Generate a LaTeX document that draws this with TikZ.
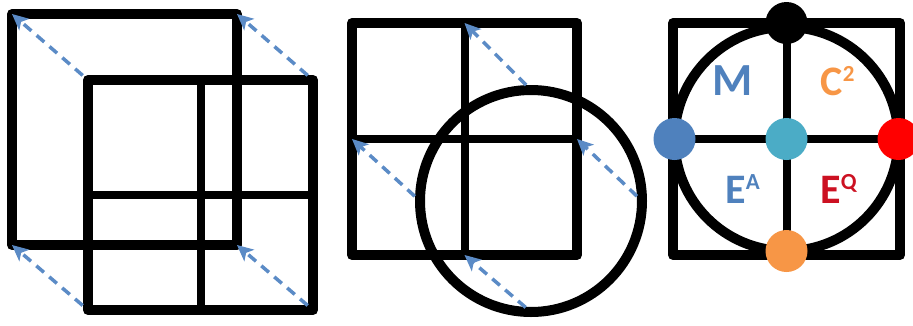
\documentclass[tikz,border=0pt]{standalone}
\usepackage{fontspec}
\newfontfamily\calfont{Carlito}
\usetikzlibrary{arrows.meta}

\definecolor{accblue}{HTML}{4F81BD}
\definecolor{accorange}{HTML}{F79646}
\definecolor{accteal}{HTML}{4BACC6}
\definecolor{accred}{HTML}{FF0000}
\definecolor{accdred}{HTML}{CC1122}
\definecolor{dashblue}{HTML}{5B8BC6}

\newcommand{\supmark}[1]{\raisebox{14pt}{\fontsize{23}{23}\selectfont #1}}

\begin{document}
\begin{tikzpicture}[
    x=1pt, y=-1pt,
    sq/.style={draw, line width=10pt, inner sep=0pt, outer sep=0pt, line join=round},
    ring/.style={draw, circle, line width=10pt, inner sep=0pt, outer sep=0pt, minimum size=#1},
    divider/.style={line width=8pt},
    slide/.style={dashblue, line width=3.5pt, dash pattern=on 10pt off 7pt,
                  -{Stealth[length=16pt, width=15pt, inset=4pt]}, shorten <=7pt},
    pole/.style={circle, fill=#1, inner sep=0pt, minimum size=42pt},
    lbl/.style={text=#1, anchor=base, inner sep=0pt,
                font=\calfont\bfseries\fontsize{42}{42}\selectfont}
]
\useasboundingbox (0,0) rectangle (913,325);

% panel 1: square shifted against itself
\node[sq, minimum width=225pt, minimum height=231pt] (back) at (124.5,129.5) {};
\node[sq, minimum width=225pt, minimum height=230pt] (front) at (200.5,195) {};
\draw[divider] (front.north) -- (front.south);
\draw[divider] (front.west) -- (front.east);

\foreach \c in {north west,north east,south west,south east}{
    \draw[slide] (front.\c) -- (back.\c);
}

% panel 2: square and shifted circle
\node[sq, minimum width=225pt, minimum height=232pt] (pane) at (464.5,139) {};
\draw[divider] (pane.north) -- (pane.south);
\draw[divider] (pane.west) -- (pane.east);
\node[ring=222pt] (disc) at (531,201) {};

\foreach \c in {north,west,east,south}{
    \draw[slide] (disc.\c) -- (pane.\c);
}

% panel 3: square with inscribed circle
\node[sq, minimum width=227pt, minimum height=232pt] (quad) at (786.5,139) {};
\draw[divider] (quad.north) -- (quad.south);
\draw[divider] (quad.west) -- (quad.east);
\node[ring=224pt] (orb) at (786.5,139) {};

\node[pole=black] (ptop) at ([yshift=4pt]orb.north) {};
\node[pole=accblue] (pleft) at (orb.west) {};
\node[pole=accteal] (pmid) at (orb.center) {};
\node[pole=accred] (pright) at (orb.east) {};
\node[pole=accorange] (pbot) at (orb.south) {};

\node[lbl=accblue, font=\calfont\bfseries\fontsize{46}{46}\selectfont] (qm) at (732.5,95) {M};
\node[lbl=accorange] (qc) at (837.5,95) {C\supmark{2}};
\node[lbl=accblue] (qa) at (742.5,203) {E\supmark{A}};
\node[lbl=accdred] (qq) at (838.5,203) {E\supmark{Q}};

\end{tikzpicture}
\end{document}
